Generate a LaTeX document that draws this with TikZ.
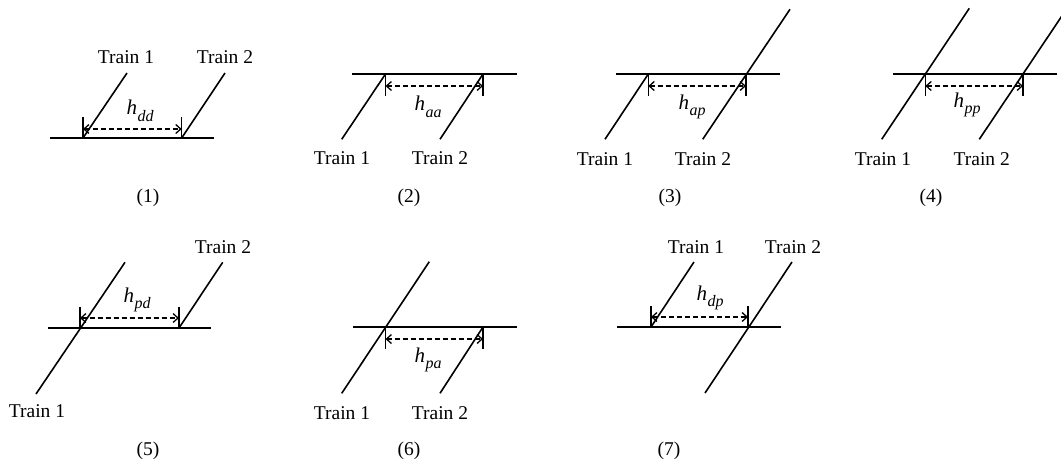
\documentclass[tikz,border=0pt]{standalone}
\usepackage{fontspec}
\setmainfont{Liberation Serif}
\usetikzlibrary{arrows.meta}
\tikzset{
  track/.style={line width=1.7pt},
  trainline/.style={line width=1.6pt},
  tick/.style={line width=1.4pt},
  gap/.style={line width=1.3pt, dash pattern=on 5pt off 3pt, {Straight Barb[length=5pt,width=9pt]}-{Straight Barb[length=5pt,width=9pt]}},
  lbl/.style={font=\fontsize{19.5}{22}\selectfont, inner sep=0pt},
  hl/.style={font=\fontsize{21}{22}\selectfont\itshape, inner sep=0pt},
}
\newcommand{\hsub}[1]{h\kern0.5pt\raisebox{-0.32em}{\fontsize{16}{16}\selectfont #1}}
\begin{document}
\begin{tikzpicture}[x=1pt,y=-1pt]
\clip (0,0) rectangle (1061,466);
\fill[white] (0,0) rectangle (1061,466);
% ---------- Panel 1 ----------
\draw[track] (50,138) -- (214,138);
\draw[trainline] (83,138) -- (127,73);
\draw[trainline] (181.7,138) -- (225,73);
\draw[tick] (83,117) -- (83,138);
\draw[tick] (181.7,117) -- (181.7,138);
\coordinate (a1) at (83,129); \coordinate (b1) at (181.7,129);
\draw[gap] (a1) -- (b1);
\node[hl] (h1) at (140,111) {\hsub{dd}};
\node[lbl] (t11) at (126,57) {Train 1};
\node[lbl] (t12) at (225,57) {Train 2};
\node[lbl] (c1) at (148,198) {(1)};
% ---------- Panel 2 ----------
\draw[track] (352,74) -- (517,74);
\draw[trainline] (341.7,139.3) -- (385.5,74);
\draw[trainline] (440,139.3) -- (483,74);
\draw[tick] (385.5,74) -- (385.5,96);
\draw[tick] (483,74) -- (483,96);
\coordinate (a2) at (385.5,86); \coordinate (b2) at (483,86);
\draw[gap] (a2) -- (b2);
\node[hl] (h2) at (428,107) {\hsub{aa}};
\node[lbl] (t21) at (342,158) {Train 1};
\node[lbl] (t22) at (440,158) {Train 2};
\node[lbl] (c2) at (409,198) {(2)};
% ---------- Panel 3 ----------
\draw[track] (616,74) -- (780,74);
\draw[trainline] (605,139.3) -- (648.3,74);
\draw[trainline] (702.7,139.3) -- (790,9.3);
\draw[tick] (648.3,74) -- (648.3,96);
\draw[tick] (746,74) -- (746,96);
\coordinate (a3) at (648.3,86); \coordinate (b3) at (746,86);
\draw[gap] (a3) -- (b3);
\node[hl] (h3) at (692,107) {\hsub{ap}};
\node[lbl] (t31) at (605,159) {Train 1};
\node[lbl] (t32) at (703,159) {Train 2};
\node[lbl] (c3) at (670,198) {(3)};
% ---------- Panel 4 ----------
\draw[track] (893,74) -- (1057,74);
\draw[trainline] (881.7,139.3) -- (969.3,8.3);
\draw[trainline] (979.3,139.3) -- (1067,8.3);
\draw[tick] (925.3,74) -- (925.3,96);
\draw[tick] (1023,74) -- (1023,96);
\coordinate (a4) at (925.3,86); \coordinate (b4) at (1023,86);
\draw[gap] (a4) -- (b4);
\node[hl] (h4) at (967,105) {\hsub{pp}};
\node[lbl] (t41) at (883,159) {Train 1};
\node[lbl] (t42) at (981.7,159) {Train 2};
\node[lbl] (c4) at (931,198) {(4)};
% ---------- Panel 5 ----------
\draw[track] (48,328) -- (211,328);
\draw[trainline] (36,394) -- (125,262.3);
\draw[trainline] (179,328) -- (222.7,262.3);
\draw[tick] (80,306.7) -- (80,328);
\draw[tick] (179,306.7) -- (179,328);
\coordinate (a5) at (80,318); \coordinate (b5) at (179,318);
\draw[gap] (a5) -- (b5);
\node[hl] (h5) at (137,300) {\hsub{pd}};
\node[lbl] (t51) at (37,411) {Train 1};
\node[lbl] (t52) at (223,247) {Train 2};
\node[lbl] (c5) at (148,451) {(5)};
% ---------- Panel 6 ----------
\draw[track] (353,327) -- (517,327);
\draw[trainline] (341.7,393.3) -- (429.3,261.7);
\draw[trainline] (440,393.3) -- (483,327);
\draw[tick] (385.5,327) -- (385.5,349.3);
\draw[tick] (483,327) -- (483,349.3);
\coordinate (a6) at (385.5,339); \coordinate (b6) at (483,339);
\draw[gap] (a6) -- (b6);
\node[hl] (h6) at (428,360) {\hsub{pa}};
\node[lbl] (t61) at (342,412.7) {Train 1};
\node[lbl] (t62) at (440,412.7) {Train 2};
\node[lbl] (c6) at (409,451) {(6)};
% ---------- Panel 7 ----------
\draw[track] (617,327) -- (781,327);
\draw[trainline] (651,327) -- (694,262);
\draw[trainline] (705,393) -- (792,262);
\draw[tick] (651,306) -- (651,327);
\draw[tick] (748,306) -- (748,327);
\coordinate (a7) at (651,317); \coordinate (b7) at (748,317);
\draw[gap] (a7) -- (b7);
\node[hl] (h7) at (710,298) {\hsub{dp}};
\node[lbl] (t71) at (696,247) {Train 1};
\node[lbl] (t72) at (793,247) {Train 2};
\node[lbl] (c7) at (669,451) {(7)};
\end{tikzpicture}
\end{document}
